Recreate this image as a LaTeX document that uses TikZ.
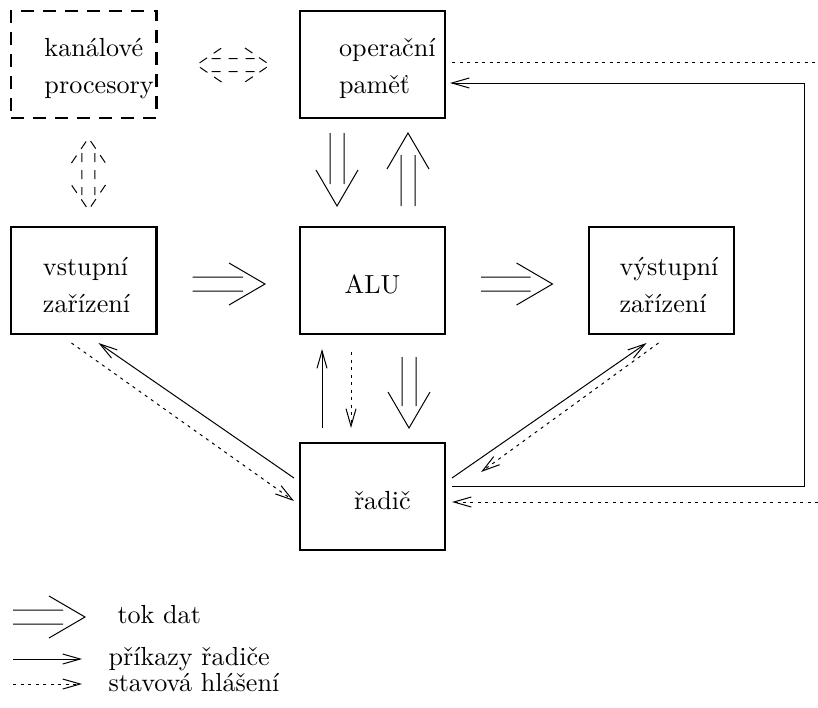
\documentclass[tikz,border=0pt]{standalone}
\usepackage{tikz}
\usetikzlibrary{arrows.meta}
\usetikzlibrary{calc}
\usetikzlibrary{positioning}
\hyphenpenalty=10000

\begin{document}
\begin{tikzpicture}[x=0.4pt, y=0.4pt, node distance = 43.6pt and 57.4pt, % rows and columns
			box/.style={
					rectangle,
					draw,
					line width=0.8pt,
					outer sep=0pt,
					inner sep=0pt,
					minimum width=58pt,
					minimum height=42.8pt,
					text width=31.6pt,
					text height=10.6pt,
					align=left,
					font=\fontsize{10.45}{14.8}\selectfont
				},
			kanalbox/.style={box, dash pattern=on 5.2pt off 3.6pt},
			popis/.style={anchor=base west, inner sep=0pt, font=\fontsize{10.45}{12.5}\selectfont},
			tok/.style={draw, line width=0.4pt, to path={
					($(\tikztotarget)!8.8pt!(\tikztostart)$) coordinate (tke)
					($(\tikztotarget)!14.4pt!(\tikztostart)$) coordinate (tkh)
					($(\tikztostart)!2.8pt!90:(\tikztotarget)$) -- ($(tke)!2.8pt!-90:(\tikztostart)$)
					($(\tikztostart)!2.8pt!-90:(\tikztotarget)$) -- ($(tke)!2.8pt!90:(\tikztostart)$)
					($(tkh)!8.4pt!90:(\tikztotarget)$) -- (\tikztotarget) -- ($(tkh)!8.4pt!-90:(\tikztotarget)$)
				}},
			tokdva/.style={draw, line width=0.4pt, dash pattern=on 3.6pt off 3.2pt, to path={
					($(\tikztostart)!6pt!(\tikztotarget)$) coordinate (tda)
					($(\tikztotarget)!6pt!(\tikztostart)$) coordinate (tdb)
					($(\tikztostart)!10pt!(\tikztotarget)$) coordinate (tdc)
					($(\tikztotarget)!10pt!(\tikztostart)$) coordinate (tdd)
					($(tda)!2.6pt!90:(\tikztotarget)$) -- ($(tdb)!2.6pt!-90:(\tikztostart)$)
					($(tda)!2.6pt!-90:(\tikztotarget)$) -- ($(tdb)!2.6pt!90:(\tikztostart)$)
					($(tdc)!6.8pt!90:(\tikztostart)$) -- (\tikztostart) -- ($(tdc)!6.8pt!-90:(\tikztostart)$)
					($(tdd)!6.8pt!90:(\tikztotarget)$) -- (\tikztotarget) -- ($(tdd)!6.8pt!-90:(\tikztotarget)$)
				}},
			prikaz/.style={draw, line width=0.4pt, -{Straight Barb[length=7pt, width=4pt]}},
			tecky/.style={draw, line width=0.4pt, dash pattern=on 1.2pt off 1.8pt},
			stav/.style={prikaz, dash pattern=on 1.2pt off 1.8pt}
		]
		\useasboundingbox (0,0) rectangle (818,-707);
		% Place nodes
		\node [box, align=center] (alu) at (372.5,-280.5) {ALU};
		\node [box, text width=26.8pt, above=of alu] (mem) {operační\\paměť};
		\node [box, text width=14.8pt, below=of alu] (radic) {řadič};
		\node [box, text width=32.8pt, left=of alu] (vstup) {vstupní\\zařízení};
		\node [box, text width=33.2pt, right=of alu] (vystup) {výstupní\\zařízení};
		\node [kanalbox, above=of vstup] (kanal) {kanálové\\procesory};
		\coordinate (okrajh) at ($(mem.east)+(373,2.5)$);
		\coordinate (okrajd) at ($(radic.east)+(373,-5.5)$);
		% Legend
		\node [popis] (lgtok) at (117,-623) {tok dat};
		\node [popis] (lgprikaz) at (108,-665) {příkazy řadiče};
		\node [popis] (lgstav) at (108,-691) {stavová hlášení};
		% Draw edges
		\path [tok] ($(mem.south west)+(37,-15)$) to ($(alu.north west)+(37,21)$);
		\path [tok] ($(alu.north east)+(-37,21)$) to ($(mem.south east)+(-37,-15)$);
		\path [tok] ($(vstup.east)+(36,-3.5)$) to ($(alu.west)+(-35,-3.5)$);
		\path [tok] ($(alu.east)+(36,-3.5)$) to ($(vystup.west)+(-36,-3.5)$);
		\path [tok] ($(alu.south east)+(-36,-23)$) to ($(radic.north east)+(-36,15)$);
		\path [tokdva] ($(kanal.east)+(40,-0.5)$) to ($(mem.west)+(-30,-0.5)$);
		\path [tokdva] ($(kanal.south west)+(77,-20)$) to ($(vstup.north west)+(77,17)$);
		\path [prikaz] ($(radic.north west)+(22,15)$) -- ($(alu.south west)+(22,-15)$);
		\path [stav] ($(alu.south west)+(51,-18)$) -- ($(radic.north west)+(51,15)$);
		\path [prikaz] ($(radic.west)+(-6,18.5)$) -- ($(vstup.south west)+(87,-9)$);
		\path [stav] ($(vstup.south west)+(60,-9)$) -- ($(radic.west)+(-6,-4.5)$);
		\path [prikaz] ($(radic.east)+(7,18.5)$) -- ($(vystup.south west)+(58,-9)$);
		\path [stav] ($(vystup.south west)+(70,-9)$) -- ($(radic.east)+(36,24.5)$);
		\path [prikaz] ($(radic.east)+(7,10.5)$) -- ++(352,0) |- ($(mem.east)+(5,-18.5)$);
		\path [tecky] ($(mem.east)+(7,2.5)$) -- (okrajh);
		\path [stav] (okrajd) -- ($(radic.east)+(7,-5.5)$);
		\path [tok] ($(lgtok.base west)+(-104,6)$) to ($(lgtok.base west)+(-32,6)$);
		\path [prikaz] ($(lgprikaz.base west)+(-95,6)$) -- ($(lgprikaz.base west)+(-26,6)$);
		\path [stav] ($(lgstav.base west)+(-95,7)$) -- ($(lgstav.base west)+(-26,7)$);
	\end{tikzpicture}
\end{document}
